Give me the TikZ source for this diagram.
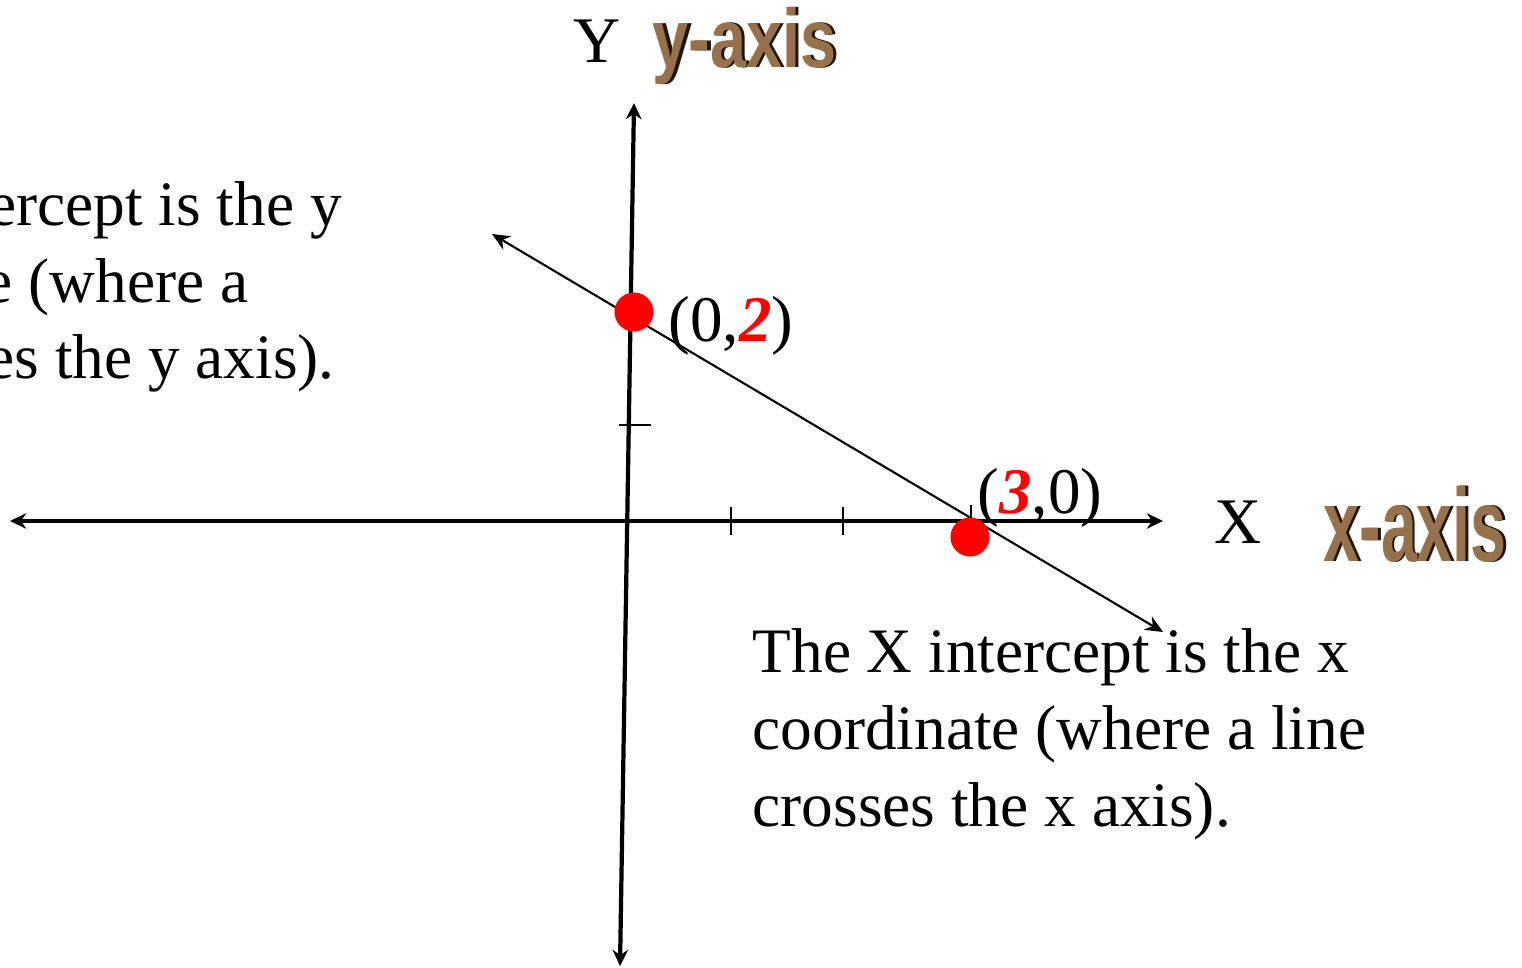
\documentclass[tikz,border=0pt]{standalone}
\usepackage{fontspec}
\setmainfont{Liberation Serif}
\newfontfamily\woodfont{Liberation Sans}
\usetikzlibrary{arrows.meta}
\definecolor{dotred}{RGB}{255,0,0}
\definecolor{woodtan}{RGB}{150,114,76}
\definecolor{wooddark}{RGB}{34,21,8}
\newcommand{\woodword}[1]{{\color{wooddark}\rlap{\kern1.2pt #1}}{\color{woodtan}#1}}
\tikzset{
  axisline/.style={line width=1.2pt, {Stealth[length=4.6pt,width=4.4pt]}-{Stealth[length=4.6pt,width=4.4pt]}},
  graphline/.style={line width=0.6pt, {Stealth[length=5pt,width=4.4pt]}-{Stealth[length=5pt,width=4.4pt]}},
  tickmark/.style={line width=0.45pt},
  dot/.style={circle, fill=dotred, inner sep=0pt, minimum size=0.39cm},
  bodytext/.style={inner sep=0pt, align=left, font=\fontsize{18}{21.8}\selectfont},
  pointlabel/.style={inner sep=0pt, font=\fontsize{18.5}{22}\selectfont},
}

\begin{document}
\begin{tikzpicture}[x=0.01cm, y=-0.01cm]
  \useasboundingbox (0,0) rectangle (1522,967);
  \clip (0,0) rectangle (1522,967);
  % axes
  \coordinate (xl) at (10,521);
  \coordinate (xr) at (1163,521);
  \coordinate (yb) at (620,966);
  \coordinate (yt) at (634,103);
  \draw[axisline] (xl) -- (xr);
  \draw[axisline] (yb) -- (yt);
  % tick marks
  \draw[tickmark] (619,425) -- (651,425);
  \draw[tickmark] (731,507) -- (731,535);
  \draw[tickmark] (843,507) -- (843,535);
  \draw[tickmark] (971,505) -- (971,535);
  % the line
  \coordinate (la) at (492,234);
  \coordinate (lb) at (1163,632);
  \draw[graphline] (lb) -- (la);
  % intercepts
  \node[dot] (yint) at (634,312) {};
  \node[dot] (xint) at (970,537) {};
  \node[pointlabel, anchor=base west] (ylabel) at (668,342) {(0,{\color{dotred}\bfseries\itshape 2})};
  \node[pointlabel, anchor=base west] (xlabel) at (977,513) {({\color{dotred}\bfseries\itshape 3},0)};
  % axis names
  \node[pointlabel, anchor=base] (yname) at (597,63) {Y};
  \node[pointlabel, anchor=base] (xname) at (1238,543) {X};
  \node[inner sep=0pt, anchor=base west, font=\woodfont\bfseries\fontsize{23.6}{26}\selectfont] (yword) at (652,68) {\scalebox{0.78}[1]{\woodword{y-axis}}};
  \node[inner sep=0pt, anchor=base west, font=\woodfont\bfseries\fontsize{29.6}{32}\selectfont] (xword) at (1323,561) {\scalebox{0.62}[1]{\woodword{x-axis}}};
  % explanations
  \node[bodytext, anchor=base west] (ytext) at (-255,379) {The Y intercept is the y\\coordinate (where a\\line crosses the y axis).};
  \node[bodytext, anchor=base west] (xtext) at (752,826) {The X intercept is the x\\coordinate (where a line\\crosses the x axis).};
\end{tikzpicture}
\end{document}
